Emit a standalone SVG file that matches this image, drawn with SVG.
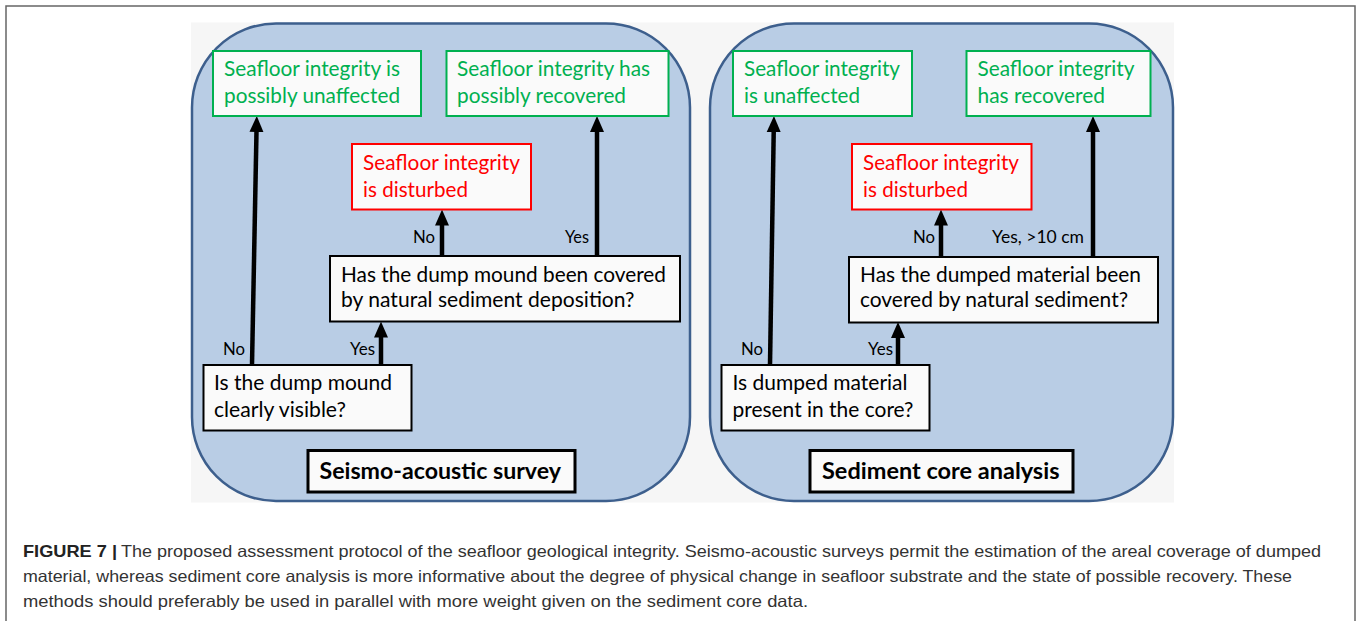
<svg xmlns="http://www.w3.org/2000/svg" width="1358" height="621" viewBox="0 0 1358 621">
<style>
.t{font-family:Lato,"Noto Sans","Liberation Sans",sans-serif;font-size:20.5px;fill:#000}
.g{fill:#00b050}
.r{fill:#ff0000}
.lb{font-family:Lato,"Noto Sans","Liberation Sans",sans-serif;font-size:18px;fill:#000}
.ti{font-family:Lato,"Noto Sans","Liberation Sans",sans-serif;font-size:23px;font-weight:bold;fill:#000}
.panel{fill:#b9cde5;stroke:#3d5f8d;stroke-width:2.5}
.bg{fill:#fafafa;stroke:#00b050;stroke-width:2}
.br{fill:#fafafa;stroke:#ff0000;stroke-width:2}
.bk{fill:#fafafa;stroke:#000;stroke-width:2}
.bt{fill:#fafafa;stroke:#000;stroke-width:3}
.ar{stroke:#000;stroke-width:4.5;fill:none;marker-end:url(#ah)}
.cap{font-family:"Liberation Sans",Arial,sans-serif;font-size:16.5px;fill:#333}
.capb{font-family:"Liberation Sans",Arial,sans-serif;font-size:16.5px;font-weight:bold;fill:#222}
</style>
<defs>
<marker id="ah" markerUnits="userSpaceOnUse" markerWidth="16" markerHeight="15" refX="6" refY="7" orient="auto" viewBox="0 0 16 14">
<path d="M0,0 L16,7 L0,14 Z" fill="#000"/>
</marker>
</defs>
<rect x="6" y="6" width="1349" height="630" fill="#fff" stroke="#666" stroke-width="1.5"/>
<rect x="191" y="22.5" width="983" height="480" fill="#f6f6f6"/>

<g id="panel-left">
<rect class="panel" x="192" y="23.5" width="498" height="477.5" rx="84" ry="84"/>
</g>
<g id="panel-right">
<rect class="panel" x="710" y="23.5" width="463" height="477.5" rx="84" ry="84"/>
</g>

<g id="connectors">
<line class="ar" x1="252" y1="365" x2="256.6" y2="126"/>
<line class="ar" x1="381" y1="365" x2="381" y2="331.5"/>
<line class="ar" x1="442" y1="256" x2="442" y2="219.5"/>
<line class="ar" x1="597" y1="256" x2="597" y2="126"/>
<line class="ar" x1="770" y1="365" x2="773.8" y2="126"/>
<line class="ar" x1="898" y1="365" x2="898" y2="332"/>
<line class="ar" x1="941" y1="257" x2="941" y2="219.5"/>
<line class="ar" x1="1093" y1="257" x2="1093" y2="126"/>
<text class="lb" x="223" y="355" textLength="22" lengthAdjust="spacingAndGlyphs">No</text>
<text class="lb" x="350" y="355" textLength="25" lengthAdjust="spacingAndGlyphs">Yes</text>
<text class="lb" x="413" y="243" textLength="22" lengthAdjust="spacingAndGlyphs">No</text>
<text class="lb" x="565" y="243" textLength="24" lengthAdjust="spacingAndGlyphs">Yes</text>
<text class="lb" x="741" y="355" textLength="22" lengthAdjust="spacingAndGlyphs">No</text>
<text class="lb" x="868" y="355" textLength="25" lengthAdjust="spacingAndGlyphs">Yes</text>
<text class="lb" x="913" y="243" textLength="22" lengthAdjust="spacingAndGlyphs">No</text>
<text class="lb" x="992" y="243" textLength="92" lengthAdjust="spacingAndGlyphs">Yes, &gt;10 cm</text>
</g>

<g id="sa-unaffected">
<rect class="bg" x="213" y="51" width="208" height="65"/>
<text class="t g" x="224" y="76" textLength="176" lengthAdjust="spacingAndGlyphs">Seafloor integrity is</text>
<text class="t g" x="224" y="103" textLength="176" lengthAdjust="spacingAndGlyphs">possibly unaffected</text>
</g>
<g id="sa-recovered">
<rect class="bg" x="446.5" y="51" width="222" height="65"/>
<text class="t g" x="457" y="76" textLength="193" lengthAdjust="spacingAndGlyphs">Seafloor integrity has</text>
<text class="t g" x="457" y="103" textLength="169" lengthAdjust="spacingAndGlyphs">possibly recovered</text>
</g>
<g id="sa-disturbed">
<rect class="br" x="352" y="144" width="179" height="65.5"/>
<text class="t r" x="363" y="170" textLength="157" lengthAdjust="spacingAndGlyphs">Seafloor integrity</text>
<text class="t r" x="363" y="197" textLength="105" lengthAdjust="spacingAndGlyphs">is disturbed</text>
</g>
<g id="sa-covered">
<rect class="bk" x="330" y="256" width="350" height="65.5"/>
<text class="t" x="341" y="282" textLength="325" lengthAdjust="spacingAndGlyphs">Has the dump mound been covered</text>
<text class="t" x="341" y="307" textLength="293.5" lengthAdjust="spacingAndGlyphs">by natural sediment deposition?</text>
</g>
<g id="sa-visible">
<rect class="bk" x="203.5" y="365" width="208" height="65.5"/>
<text class="t" x="214" y="390" textLength="178" lengthAdjust="spacingAndGlyphs">Is the dump mound</text>
<text class="t" x="214" y="417" textLength="132" lengthAdjust="spacingAndGlyphs">clearly visible?</text>
</g>
<g id="sa-title">
<rect class="bt" x="308" y="450.5" width="267" height="41.5"/>
<text class="ti" x="319.5" y="478.5" textLength="241.5" lengthAdjust="spacingAndGlyphs">Seismo-acoustic survey</text>
</g>

<g id="sc-unaffected">
<rect class="bg" x="733" y="51" width="179" height="65"/>
<text class="t g" x="744" y="76" textLength="156" lengthAdjust="spacingAndGlyphs">Seafloor integrity</text>
<text class="t g" x="744" y="103" textLength="116" lengthAdjust="spacingAndGlyphs">is unaffected</text>
</g>
<g id="sc-recovered">
<rect class="bg" x="966.5" y="51" width="184" height="65"/>
<text class="t g" x="977.5" y="76" textLength="157" lengthAdjust="spacingAndGlyphs">Seafloor integrity</text>
<text class="t g" x="977.5" y="103" textLength="127.5" lengthAdjust="spacingAndGlyphs">has recovered</text>
</g>
<g id="sc-disturbed">
<rect class="br" x="852" y="144" width="179.5" height="65.5"/>
<text class="t r" x="863" y="170" textLength="156" lengthAdjust="spacingAndGlyphs">Seafloor integrity</text>
<text class="t r" x="863" y="197" textLength="105" lengthAdjust="spacingAndGlyphs">is disturbed</text>
</g>
<g id="sc-covered">
<rect class="bk" x="849" y="257" width="309" height="65.5"/>
<text class="t" x="860" y="282" textLength="281" lengthAdjust="spacingAndGlyphs">Has the dumped material been</text>
<text class="t" x="860" y="307" textLength="268" lengthAdjust="spacingAndGlyphs">covered by natural sediment?</text>
</g>
<g id="sc-present">
<rect class="bk" x="721.5" y="365" width="208" height="65.5"/>
<text class="t" x="732.5" y="390" textLength="175" lengthAdjust="spacingAndGlyphs">Is dumped material</text>
<text class="t" x="732.5" y="417" textLength="181" lengthAdjust="spacingAndGlyphs">present in the core?</text>
</g>
<g id="sc-title">
<rect class="bt" x="810" y="450.5" width="263" height="41.5"/>
<text class="ti" x="822" y="478.5" textLength="237.5" lengthAdjust="spacingAndGlyphs">Sediment core analysis</text>
</g>

<g id="caption">
<text class="capb" x="23" y="557" textLength="94" lengthAdjust="spacingAndGlyphs">FIGURE 7 |</text>
<text class="cap" x="121" y="557" textLength="1200" lengthAdjust="spacingAndGlyphs">The proposed assessment protocol of the seafloor geological integrity. Seismo-acoustic surveys permit the estimation of the areal coverage of dumped</text>
<text class="cap" x="23" y="582" textLength="1269" lengthAdjust="spacingAndGlyphs">material, whereas sediment core analysis is more informative about the degree of physical change in seafloor substrate and the state of possible recovery. These</text>
<text class="cap" x="23" y="607" textLength="785" lengthAdjust="spacingAndGlyphs">methods should preferably be used in parallel with more weight given on the sediment core data.</text>
</g>
</svg>
